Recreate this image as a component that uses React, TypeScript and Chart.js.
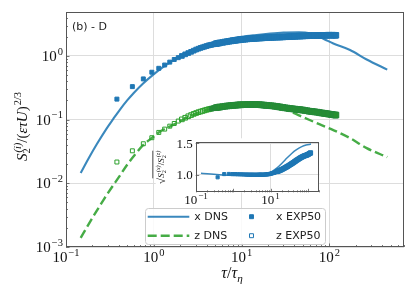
import React, { useEffect, useRef } from "react";
import { Chart, registerables } from "chart.js";

Chart.register(...registerables);

// ---------------- data ----------------
const seriesLabels = ["x DNS", "z DNS", "x EXP50", "z EXP50"];
const panelLabel = "(b) - D";

// x DNS (solid blue)
const tauDnsX = [0.147, 0.18, 0.224, 0.291, 0.346, 0.412, 0.5, 0.584, 0.75, 0.987, 1.25, 1.53, 1.9, 2.37, 3.21, 5.0, 7.0, 10.0, 14.0, 20.0, 30.0, 45.0, 60.0, 75.0, 90.0, 111.0, 172.0, 266.0, 456.0];
const sxDns = [0.0145, 0.0243, 0.041, 0.0731, 0.103, 0.144, 0.202, 0.258, 0.367, 0.51, 0.655, 0.794, 0.955, 1.114, 1.337, 1.62, 1.83, 2.0, 2.12, 2.23, 2.33, 2.35, 2.27, 2.03, 1.8, 1.57, 1.24, 0.88, 0.61];

// z DNS (dashed green)
const tauDnsZ = [0.147, 0.18, 0.22, 0.27, 0.33, 0.4, 0.5, 0.62, 0.76, 0.95, 1.18, 1.5, 1.82, 2.58, 4.0, 6.2, 9.6, 15.0, 23.0, 34.0, 52.0, 78.0, 111.0, 172.0, 266.0, 456.0];
const szDns = [0.00139, 0.00225, 0.00356, 0.0056, 0.00853, 0.0125, 0.0198, 0.029, 0.04, 0.0515, 0.065, 0.077, 0.088, 0.113, 0.142, 0.16, 0.17, 0.171, 0.163, 0.138, 0.107, 0.084, 0.0685, 0.0513, 0.0357, 0.0258];

// EXP50 sample times
const tauExp = [
  0.38, 0.57, 0.76, 0.95, 1.14, 1.33, 1.52, 1.71,
  1.9, 2.09, 2.28, 2.47, 2.66, 2.85, 3.04, 3.23, 3.42, 3.61, 3.8, 3.99, 4.18, 4.37, 4.56, 4.75, 4.94, 5.13, 5.32, 5.51, 5.7,
  6.08, 6.46, 6.84, 7.22, 7.6, 7.98, 8.36, 8.74, 9.12, 9.5, 9.88,
  10.45, 11.02, 11.59, 12.16, 12.73, 13.3, 13.87, 14.44, 15.01,
  15.77, 16.53, 17.29, 18.05, 18.81, 19.57,
  20.71, 21.85, 22.99, 24.13, 25.27, 26.41, 27.55, 28.69, 29.83,
  31.35, 32.87, 34.39, 35.91, 37.43, 38.95,
  40.85, 42.75, 44.65, 46.55, 48.45, 50.35,
  53.01, 55.67, 58.33, 60.99, 63.65, 66.31, 68.97,
  72.39, 75.81, 79.23, 82.65, 86.07, 89.49, 92.91, 96.33, 99.75,
  103.93, 108.11, 112.29, 116.47, 118.75,
];
const sxExp = [
  0.21, 0.33, 0.436, 0.555, 0.64, 0.72, 0.8, 0.88,
  0.94, 1.0, 1.06, 1.11, 1.16, 1.21, 1.26, 1.3, 1.34, 1.37, 1.4, 1.43, 1.46, 1.48, 1.5, 1.52, 1.54, 1.56, 1.58, 1.59, 1.61,
  1.63, 1.66, 1.68, 1.7, 1.72, 1.74, 1.75, 1.77, 1.78, 1.8, 1.81,
  1.82, 1.83, 1.85, 1.86, 1.87, 1.88, 1.88, 1.89, 1.9,
  1.91, 1.91, 1.92, 1.93, 1.93, 1.94,
  1.95, 1.95, 1.96, 1.97, 1.97, 1.98, 1.98, 1.99, 1.99,
  2.0, 2.0, 2.01, 2.02, 2.02, 2.03,
  2.03, 2.04, 2.05, 2.05, 2.06, 2.06,
  2.07, 2.07, 2.08, 2.08, 2.08, 2.09, 2.09,
  2.09, 2.1, 2.1, 2.1, 2.11, 2.11, 2.11, 2.12, 2.12,
  2.11, 2.12, 2.12, 2.11, 2.11,
];
const szExp = [
  0.0216, 0.0324, 0.0418, 0.052, 0.063, 0.071, 0.079, 0.087,
  0.095, 0.101, 0.107, 0.113, 0.118, 0.123, 0.127, 0.131, 0.134, 0.137, 0.14, 0.143, 0.145, 0.147, 0.149, 0.151, 0.153, 0.154, 0.156, 0.157, 0.158,
  0.16, 0.162, 0.164, 0.165, 0.166, 0.167, 0.168, 0.169, 0.17, 0.171, 0.171,
  0.172, 0.172, 0.173, 0.173, 0.173, 0.173, 0.173, 0.173, 0.172,
  0.172, 0.171, 0.17, 0.169, 0.168, 0.167,
  0.166, 0.165, 0.164, 0.162, 0.161, 0.159, 0.158, 0.156, 0.155,
  0.153, 0.152, 0.15, 0.149, 0.148, 0.147,
  0.146, 0.145, 0.144, 0.143, 0.142, 0.141,
  0.139, 0.138, 0.136, 0.135, 0.134, 0.133, 0.132,
  0.131, 0.13, 0.128, 0.127, 0.126, 0.125, 0.124, 0.123, 0.122,
  0.121, 0.12, 0.119, 0.118, 0.118,
];

// inset: sqrt(S2x/S2z) normalised
const tauInDns = [0.136, 0.2, 0.3, 0.5, 0.74, 1.2, 2.0, 3.5, 5.8, 8.0, 10.8, 15.0, 20.0, 28.0, 37.0, 50.0, 69.0, 90.0, 122.0];
const ratioInDns = [1.022, 1.015, 1.006, 0.996, 0.99, 0.988, 0.99, 0.995, 1.005, 1.02, 1.05, 1.11, 1.18, 1.27, 1.34, 1.4, 1.45, 1.475, 1.49];
const ratioInExp = [
  0.958, 1.01, 1.012, 1.01, 1.01, 1.008, 1.006, 1.005,
  1.004, 1.003, 1.002, 1.002, 1.001, 1.0, 1.0, 1.0, 0.999, 0.999, 0.998, 0.998, 0.998, 0.998, 0.998, 0.999, 0.999, 0.999, 1.0, 1.0, 1.0,
  1.0, 1.001, 1.002, 1.003, 1.004, 1.005, 1.007, 1.008, 1.01, 1.012, 1.014,
  1.018, 1.022, 1.026, 1.03, 1.034, 1.038, 1.042, 1.046, 1.05,
  1.055, 1.06, 1.065, 1.07, 1.075, 1.08,
  1.087, 1.094, 1.101, 1.108, 1.115, 1.122, 1.128, 1.134, 1.14,
  1.148, 1.156, 1.164, 1.171, 1.178, 1.185,
  1.193, 1.201, 1.209, 1.217, 1.225, 1.232,
  1.24, 1.248, 1.256, 1.263, 1.27, 1.276, 1.282,
  1.288, 1.294, 1.299, 1.303, 1.307, 1.31, 1.314, 1.318, 1.322,
  1.328, 1.335, 1.34, 1.345, 1.35,
];

const mainXTicks = [0.1, 1, 10, 100];
const mainYTicks = [0.001, 0.01, 0.1, 1];
const insetXTicks = [0.1, 10];
const insetYTicks = [1.0, 1.5];

// ---------------- styling ----------------
const SERIF = "'Liberation Serif', 'DejaVu Serif', serif";
const SANS = "'DejaVu Sans', sans-serif";
const BLUE = "#1f77b4";
const GREEN = "#2ca02c";
const FRAME = "#555555";
const GRID = "#dddddd";

type Part = { t: string; it?: boolean; sub?: string; sup?: string; subIt?: boolean; supIt?: boolean };

function fnt(size: number, it?: boolean, fam: string = SERIF) {
  return `${it ? "italic " : ""}${size}px ${fam}`;
}

function measureRich(ctx: CanvasRenderingContext2D, parts: Part[], size: number, fam: string) {
  let w = 0;
  for (const p of parts) {
    ctx.font = fnt(size, p.it, fam);
    w += ctx.measureText(p.t).width;
    let sw = 0;
    if (p.sub) { ctx.font = fnt(size * 0.7, p.subIt, fam); sw = Math.max(sw, ctx.measureText(p.sub).width); }
    if (p.sup) { ctx.font = fnt(size * 0.7, p.supIt, fam); sw = Math.max(sw, ctx.measureText(p.sup).width + 1); }
    w += sw;
  }
  return w;
}

function drawRich(ctx: CanvasRenderingContext2D, parts: Part[], x: number, y: number, size: number, fam: string, align: "left" | "center" | "right") {
  const w = measureRich(ctx, parts, size, fam);
  let cx = align === "center" ? x - w / 2 : align === "right" ? x - w : x;
  ctx.textAlign = "left";
  ctx.textBaseline = "alphabetic";
  for (const p of parts) {
    ctx.font = fnt(size, p.it, fam);
    ctx.fillText(p.t, cx, y);
    cx += ctx.measureText(p.t).width;
    let sw = 0;
    if (p.sub) {
      ctx.font = fnt(size * 0.7, p.subIt, fam);
      ctx.fillText(p.sub, cx, y + size * 0.22);
      sw = Math.max(sw, ctx.measureText(p.sub).width);
    }
    if (p.sup) {
      ctx.font = fnt(size * 0.7, p.supIt, fam);
      ctx.fillText(p.sup, cx + 1, y - size * 0.42);
      sw = Math.max(sw, ctx.measureText(p.sup).width + 1);
    }
    cx += sw;
  }
  return w;
}

function expLabel(v: number): Part[] {
  const e = Math.round(Math.log10(v));
  return [{ t: "10", sup: (e < 0 ? "\u2212" : "") + Math.abs(e) }];
}

function drawLogTicks(ctx: CanvasRenderingContext2D, scale: any, axis: "x" | "y", a: any) {
  const lo = Math.floor(Math.log10(scale.min));
  const hi = Math.ceil(Math.log10(scale.max));
  ctx.strokeStyle = FRAME;
  ctx.lineWidth = 0.8;
  for (let n = lo; n <= hi; n++) {
    for (let k = 1; k <= 9; k++) {
      const v = k * Math.pow(10, n);
      if (v < scale.min * 0.999 || v > scale.max * 1.001) continue;
      const p = Math.round(scale.getPixelForValue(v)) + 0.5;
      const len = k === 1 ? 3.5 : 2;
      ctx.beginPath();
      if (axis === "x") { ctx.moveTo(p, a.bottom); ctx.lineTo(p, a.bottom - len); }
      else { ctx.moveTo(a.left, p); ctx.lineTo(a.left + len, p); }
      ctx.stroke();
    }
  }
}

function drawFrame(ctx: CanvasRenderingContext2D, a: any) {
  ctx.strokeStyle = FRAME;
  ctx.lineWidth = 1;
  const l = Math.round(a.left) + 0.5, t = Math.round(a.top) + 0.5;
  const r = Math.round(a.right) - 0.5, b = Math.round(a.bottom) - 0.5;
  ctx.strokeRect(l, t, r - l, b - t);
}

function drawMarker(ctx: CanvasRenderingContext2D, ds: any, x: number, y: number, r: number, filled: boolean) {
  const half = Math.SQRT1_2 * r;
  ctx.beginPath();
  ctx.rect(x - half, y - half, 2 * half, 2 * half);
  if (filled) { ctx.fillStyle = ds.borderColor; ctx.fill(); }
  ctx.strokeStyle = ds.borderColor; ctx.lineWidth = 1; ctx.stroke();
}

function drawLegend(chart: any) {
  const ctx: CanvasRenderingContext2D = chart.ctx;
  const a = chart.chartArea;
  const dss = chart.data.datasets;
  const w = 180, h = 36;
  const x0 = (a.left + a.right) / 2 - w / 2;
  const y0 = a.bottom - 3 - h;
  ctx.save();
  ctx.beginPath();
  (ctx as any).roundRect(x0 + 0.5, y0 + 0.5, w, h, 3);
  ctx.fillStyle = "rgba(255,255,255,0.85)";
  ctx.fill();
  ctx.strokeStyle = "#cccccc";
  ctx.lineWidth = 1;
  ctx.stroke();
  const rows = [y0 + 8.7, y0 + 27.7];
  const cols = [
    { h0: x0 + 2.7, h1: x0 + 44.3, tx: x0 + 49.3 },
    { h0: x0 + 85.7, h1: x0 + 127.3, tx: x0 + 131 },
  ];
  dss.forEach((ds: any, i: number) => {
    const c = cols[Math.floor(i / 2)];
    const y = rows[i % 2];
    if (ds.showLine) {
      ctx.beginPath();
      ctx.setLineDash(ds.borderDash || []);
      ctx.strokeStyle = ds.borderColor;
      ctx.lineWidth = ds.borderWidth;
      ctx.moveTo(c.h0, y);
      ctx.lineTo(c.h1, y);
      ctx.stroke();
      ctx.setLineDash([]);
    } else {
      drawMarker(ctx, ds, (c.h0 + c.h1) / 2, y, 2.8, i === 2);
    }
    ctx.fillStyle = "#222222";
    ctx.font = `11px ${SANS}`;
    ctx.textAlign = "left";
    ctx.textBaseline = "middle";
    ctx.fillText(ds.label, c.tx, y + 0.5);
  });
  ctx.restore();
}

const mainDecor = {
  id: "mainDecor",
  afterDatasetsDraw(chart: any) {
    const ctx: CanvasRenderingContext2D = chart.ctx;
    const a = chart.chartArea;
    const xs = chart.scales.x, ys = chart.scales.y;
    ctx.save();
    drawLogTicks(ctx, xs, "x", a);
    drawLogTicks(ctx, ys, "y", a);
    drawFrame(ctx, a);
    ctx.fillStyle = "#111111";
    for (const v of mainXTicks) drawRich(ctx, expLabel(v), xs.getPixelForValue(v), a.bottom + 15, 15, SERIF, "center");
    for (const v of mainYTicks) drawRich(ctx, expLabel(v), a.left - 3, ys.getPixelForValue(v) + 5, 15, SERIF, "right");
    // x title
    drawRich(ctx, [{ t: "\u03c4", it: true }, { t: "/" }, { t: "\u03c4", it: true, sub: "\u03b7", subIt: true }], (a.left + a.right) / 2 - 3, a.bottom + 31, 16, SERIF, "center");
    // y title
    ctx.save();
    ctx.translate(27, (a.top + a.bottom) / 2 - 3);
    ctx.rotate(-Math.PI / 2);
    drawRich(ctx, [
      { t: "S", it: true, sub: "2", sup: "(i)", supIt: true },
      { t: "/(" },
      { t: "\u03b5\u03c4U", it: true },
      { t: ")", sup: "2/3" },
    ], 0, 0, 15, SERIF, "center");
    ctx.restore();
    // panel label
    ctx.fillStyle = "#222222";
    ctx.font = `11px ${SANS}`;
    ctx.textAlign = "left";
    ctx.textBaseline = "alphabetic";
    ctx.fillText(panelLabel, a.left + 6, a.top + 18);
    drawLegend(chart);
    ctx.restore();
  },
};

const insetDecor = {
  id: "insetDecor",
  beforeDraw(chart: any) {
    const ctx: CanvasRenderingContext2D = chart.ctx;
    const a = chart.chartArea;
    ctx.save();
    ctx.fillStyle = "#ffffff";
    ctx.fillRect(a.left - 40, a.top - 4, a.right - a.left + 40, a.bottom - a.top + 4);
    ctx.restore();
  },
  afterDatasetsDraw(chart: any) {
    const ctx: CanvasRenderingContext2D = chart.ctx;
    const a = chart.chartArea;
    const xs = chart.scales.x, ys = chart.scales.y;
    ctx.save();
    drawLogTicks(ctx, xs, "x", a);
    ctx.strokeStyle = FRAME;
    ctx.lineWidth = 0.8;
    for (const v of insetYTicks) {
      const p = Math.round(ys.getPixelForValue(v)) + 0.5;
      ctx.beginPath(); ctx.moveTo(a.left, p); ctx.lineTo(a.left + 3.5, p); ctx.stroke();
    }
    drawFrame(ctx, a);
    ctx.fillStyle = "#111111";
    for (const v of insetXTicks) drawRich(ctx, expLabel(v), xs.getPixelForValue(v), a.bottom + 12, 13, SERIF, "center");
    for (const v of insetYTicks) drawRich(ctx, [{ t: v.toFixed(1) }], a.left - 3, ys.getPixelForValue(v) + 4.5, 13, SERIF, "right");
    // y label sqrt(S2x/S2z)
    ctx.save();
    ctx.translate(14, (a.top + a.bottom) / 2);
    ctx.rotate(-Math.PI / 2);
    const size = 9;
    const parts: Part[] = [
      { t: "S", it: true, sub: "2", sup: "(x)", supIt: true },
      { t: "/" },
      { t: "S", it: true, sub: "2", sup: "(z)", supIt: true },
    ];
    ctx.font = fnt(size + 2, false, SERIF);
    const rw = ctx.measureText("\u221a").width;
    const pw = measureRich(ctx, parts, size, SERIF);
    const x0 = -(rw + pw) / 2;
    ctx.font = fnt(size + 2, false, SERIF);
    ctx.textAlign = "left";
    ctx.fillText("\u221a", x0, 1);
    drawRich(ctx, parts, x0 + rw, 0, size, SERIF, "left");
    ctx.strokeStyle = "#111111";
    ctx.lineWidth = 0.7;
    ctx.beginPath();
    ctx.moveTo(x0 + rw - 0.5, -size * 1.25);
    ctx.lineTo(x0 + rw + pw, -size * 1.25);
    ctx.stroke();
    ctx.restore();
    ctx.restore();
  },
};

function pts(xs: number[], ys: number[]) {
  return xs.map((x, i) => ({ x, y: ys[i] }));
}

function tauOf(c: any) {
  return c && c.raw ? c.raw.x : 1;
}

function mainConfig(): any {
  return {
    type: "scatter",
    data: {
      datasets: [
        {
          label: seriesLabels[0], data: pts(tauDnsX, sxDns), showLine: true, pointRadius: 0,
          borderColor: "rgba(31,119,180,0.88)", borderWidth: 2.1, cubicInterpolationMode: "monotone", order: 1,
        },
        {
          label: seriesLabels[1], data: pts(tauDnsZ, szDns), showLine: true, pointRadius: 0,
          borderColor: "rgba(44,160,44,0.88)", borderWidth: 2.4, borderDash: [9, 4], cubicInterpolationMode: "monotone", order: 1,
        },
        {
          label: seriesLabels[2], data: pts(tauExp, sxExp), showLine: false, pointStyle: "rect",
          pointRadius: (c: any) => { const t = tauOf(c); return t < 2 ? 2.8 : t < 5 ? 3.3 : 3.9; },
          backgroundColor: BLUE, borderColor: BLUE, borderWidth: 1, order: 0,
        },
        {
          label: seriesLabels[3], data: pts(tauExp, szExp), showLine: false, pointStyle: "rect",
          pointRadius: (c: any) => { const t = tauOf(c); return t < 2 ? 2.8 : t < 5 ? 3.3 : 4.0; },
          backgroundColor: (c: any) => (tauOf(c) < 4.5 ? "rgba(0,0,0,0)" : "rgba(40,145,48,0.9)"),
          borderColor: (c: any) => (tauOf(c) < 4.5 ? GREEN : "#25893a"),
          borderWidth: 1, order: 0,
        },
      ],
    },
    options: {
      animation: false,
      responsive: false,
      events: [],
      layout: { padding: { left: 0, top: 12, right: 11, bottom: 0 } },
      plugins: { legend: { display: false }, tooltip: { enabled: false } },
      scales: {
        x: {
          type: "logarithmic", min: 0.1, max: 708,
          ticks: { display: false },
          grid: { color: GRID, lineWidth: 1, drawTicks: false },
          border: { display: false },
          afterBuildTicks: (s: any) => { s.ticks = mainXTicks.map((v) => ({ value: v })); },
          afterFit: (s: any) => { s.height = 47; },
        },
        y: {
          type: "logarithmic", min: 0.001, max: 4.9,
          ticks: { display: false },
          grid: { color: GRID, lineWidth: 1, drawTicks: false },
          border: { display: false },
          afterBuildTicks: (s: any) => { s.ticks = mainYTicks.map((v) => ({ value: v })); },
          afterFit: (s: any) => { s.width = 66; },
        },
      },
    },
    plugins: [mainDecor],
  };
}

function insetConfig(): any {
  return {
    type: "scatter",
    data: {
      datasets: [
        {
          label: seriesLabels[0], data: pts(tauInDns, ratioInDns), showLine: true, pointRadius: 0,
          borderColor: "rgba(31,119,180,0.88)", borderWidth: 1.5, cubicInterpolationMode: "monotone", order: 1,
        },
        {
          label: seriesLabels[2], data: pts(tauExp, ratioInExp), showLine: false, pointStyle: "rect",
          pointRadius: (c: any) => (tauOf(c) < 15 ? 2.2 : 2.9),
          backgroundColor: BLUE, borderColor: BLUE, borderWidth: 1, order: 0,
        },
      ],
    },
    options: {
      animation: false,
      responsive: false,
      events: [],
      layout: { padding: { left: 0, top: 7.3, right: 5.7, bottom: 0 } },
      plugins: { legend: { display: false }, tooltip: { enabled: false } },
      scales: {
        x: {
          type: "logarithmic", min: 0.098, max: 204,
          ticks: { display: false },
          grid: { color: GRID, lineWidth: 1, drawTicks: false },
          border: { display: false },
          afterBuildTicks: (s: any) => { s.ticks = insetXTicks.map((v) => ({ value: v })); },
          afterFit: (s: any) => { s.height = 17.7; },
        },
        y: {
          type: "linear", min: 0.718, max: 1.519,
          ticks: { display: false },
          grid: { color: GRID, lineWidth: 1, drawTicks: false },
          border: { display: false },
          afterBuildTicks: (s: any) => { s.ticks = insetYTicks.map((v) => ({ value: v })); },
          afterFit: (s: any) => { s.width = 45.7; },
        },
      },
    },
    plugins: [insetDecor],
  };
}

export default function App() {
  const mainRef = useRef<HTMLCanvasElement>(null);
  const insetRef = useRef<HTMLCanvasElement>(null);
  useEffect(() => {
    const main = new Chart(mainRef.current as HTMLCanvasElement, mainConfig());
    const inset = new Chart(insetRef.current as HTMLCanvasElement, insetConfig());
    return () => {
      main.destroy();
      inset.destroy();
    };
  }, []);
  return (
    <div style={{ position: "absolute", left: 0, top: 0, width: 415, height: 294, background: "#ffffff" }}>
      <canvas ref={mainRef} width={415} height={294} style={{ position: "absolute", left: 0, top: 0, width: 415, height: 294 }} />
      <canvas ref={insetRef} width={175} height={75} style={{ position: "absolute", left: 150, top: 135, width: 175, height: 75 }} />
    </div>
  );
}
